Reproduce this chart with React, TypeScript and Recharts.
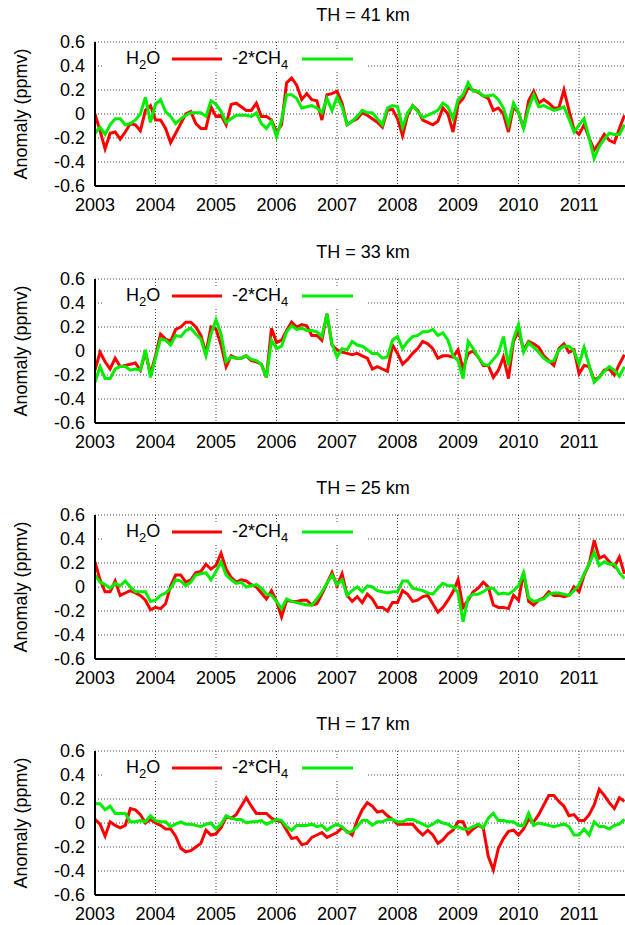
import React from "react";
import {
  LineChart,
  Line,
  XAxis,
  YAxis,
  CartesianGrid,
  Customized,
} from "recharts";

// month index counted from Jan 2003
const yearTicks = [0, 12, 24, 36, 48, 60, 72, 84, 96];
const quarterTicks = [
  0, 3, 6, 9, 12, 15, 18, 21, 24, 27, 30, 33, 36, 39, 42, 45, 48, 51, 54, 57,
  60, 63, 66, 69, 72, 75, 78, 81, 84, 87, 90, 93, 96, 99, 102, 105,
];
const yTicks = [-0.6, -0.4, -0.2, 0, 0.2, 0.4, 0.6];
const heights = ["41", "33", "25", "17"];

const h2o41 = [
  0.0, -0.14, -0.29, -0.16, -0.15, -0.21, -0.15, -0.08, -0.09, -0.14, 0.03, 0.07,
  -0.05, -0.05, -0.12, -0.24, -0.16, -0.08, 0.0, 0.02, -0.08, -0.12, -0.12, 0.06,
  -0.02, -0.01, -0.09, 0.08, 0.09, 0.06, 0.03, 0.03, 0.09, -0.02, -0.02, -0.05,
  -0.15, -0.09, 0.26, 0.3, 0.24, 0.12, 0.17, 0.12, 0.11, -0.05, 0.16, 0.17,
  0.19, 0.09, -0.09, -0.06, -0.04, 0.01, -0.01, -0.04, -0.07, -0.11, 0.03, 0.04,
  -0.04, -0.18, -0.01, 0.07, 0.03, -0.05, -0.07, -0.09, -0.06, 0.05, 0.0, -0.15,
  0.08, 0.13, 0.22, 0.2, 0.18, 0.15, 0.13, 0.03, 0.05, 0.0, -0.15, 0.06,
  0.01, -0.12, 0.11, 0.19, 0.09, 0.12, 0.09, 0.05, 0.05, 0.2, 0.03, -0.13,
  -0.17, -0.09, -0.2, -0.3, -0.24, -0.17, -0.22, -0.24, -0.12, -0.01,
];
const ch4_41 = [
  -0.16, -0.11, -0.17, -0.09, -0.04, -0.04, -0.09, -0.08, -0.05, 0.0, 0.14, -0.07,
  0.08, 0.12, 0.02, -0.02, -0.08, -0.04, -0.01, 0.01, 0.01, 0.01, -0.02, 0.11,
  0.08, 0.02, -0.07, -0.04, -0.01, -0.01, -0.01, -0.02, 0.01, -0.08, -0.12, -0.06,
  -0.19, -0.05, 0.16, 0.16, 0.13, 0.05, 0.06, 0.07, 0.05, 0.01, 0.13, 0.03,
  0.14, 0.06, -0.09, -0.06, -0.02, 0.03, 0.01, 0.01, -0.04, -0.09, 0.05, 0.07,
  0.06, -0.11, 0.01, 0.07, 0.02, -0.03, -0.01, 0.01, 0.03, 0.09, 0.06, -0.04,
  0.12, 0.16, 0.26, 0.19, 0.19, 0.15, 0.15, 0.16, 0.12, 0.05, -0.09, 0.09,
  0.01, -0.12, 0.05, 0.16, 0.06, 0.07, 0.05, 0.03, 0.04, 0.06, -0.04, -0.15,
  -0.09, -0.04, -0.2, -0.37, -0.27, -0.21, -0.16, -0.17, -0.17, -0.09,
];

const h2o33 = [
  -0.16, -0.01, -0.09, -0.15, -0.06, -0.13, -0.12, -0.11, -0.1, -0.16, -0.01, -0.19,
  -0.04, 0.14, 0.1, 0.08, 0.18, 0.2, 0.24, 0.24, 0.2, 0.13, -0.02, 0.2,
  0.18, 0.05, -0.13, -0.04, -0.06, -0.06, -0.04, -0.08, -0.09, -0.11, -0.22, 0.19,
  0.07, 0.09, 0.17, 0.24, 0.2, 0.22, 0.21, 0.13, 0.13, 0.09, 0.31, 0.05,
  0.01, -0.01, -0.02, -0.03, -0.02, -0.04, -0.06, -0.15, -0.13, -0.15, -0.17, 0.05,
  -0.02, -0.11, -0.07, -0.02, 0.02, 0.08, 0.06, 0.02, -0.06, -0.04, -0.04, -0.05,
  0.01, -0.15, -0.02, 0.0, -0.05, -0.12, -0.12, -0.22, -0.16, -0.05, -0.23, 0.08,
  0.17, 0.01, 0.08, 0.06, 0.03, -0.04, -0.08, -0.12, 0.02, 0.06, -0.01, 0.01,
  -0.19, -0.12, -0.13, -0.24, -0.22, -0.16, -0.15, -0.2, -0.11, -0.03,
];
const ch4_33 = [
  -0.26, -0.13, -0.23, -0.23, -0.15, -0.13, -0.13, -0.16, -0.15, -0.16, 0.01, -0.22,
  -0.06, 0.1, 0.09, 0.05, 0.13, 0.12, 0.17, 0.19, 0.14, 0.1, -0.04, 0.14,
  0.26, 0.14, -0.09, -0.05, -0.06, -0.06, -0.04, -0.07, -0.08, -0.11, -0.22, 0.09,
  0.02, 0.04, 0.16, 0.21, 0.18, 0.19, 0.17, 0.17, 0.16, 0.12, 0.31, 0.06,
  -0.05, 0.02, 0.01, 0.08, 0.05, 0.04, 0.01, -0.02, -0.02, -0.06, -0.05, 0.09,
  0.12, 0.02, 0.08, 0.12, 0.13, 0.16, 0.16, 0.18, 0.13, 0.15, 0.09, -0.04,
  -0.08, -0.23, 0.08, 0.02, -0.05, -0.11, -0.12, -0.07, -0.02, 0.12, -0.12, 0.1,
  0.22, -0.01, 0.07, 0.03, -0.01, -0.06, -0.09, -0.08, 0.01, 0.04, 0.04, 0.0,
  -0.11, 0.03, -0.12, -0.26, -0.22, -0.17, -0.13, -0.16, -0.21, -0.13,
];

const h2o25 = [
  0.21, 0.06, -0.04, -0.04, 0.05, -0.07, -0.05, -0.03, -0.05, -0.07, -0.11, -0.19,
  -0.17, -0.18, -0.14, 0.01, 0.1, 0.1, 0.04, 0.06, 0.12, 0.13, 0.19, 0.15,
  0.18, 0.28, 0.15, 0.08, 0.04, 0.06, 0.05, 0.02, 0.0, -0.05, -0.1, -0.03,
  -0.12, -0.25, -0.11, -0.12, -0.12, -0.11, -0.11, -0.15, -0.14, -0.06, 0.03, 0.12,
  0.01, 0.11, -0.07, -0.12, -0.08, -0.13, -0.06, -0.1, -0.17, -0.17, -0.2, -0.13,
  -0.13, -0.03, -0.06, -0.12, -0.11, -0.08, -0.07, -0.14, -0.21, -0.17, -0.11, -0.04,
  0.06, -0.17, -0.11, -0.04, -0.01, 0.04, 0.0, -0.15, -0.17, -0.17, -0.18, -0.07,
  -0.11, 0.12, -0.12, -0.15, -0.11, -0.09, -0.04, -0.07, -0.07, -0.08, -0.07, 0.0,
  -0.04, 0.1, 0.19, 0.39, 0.24, 0.26, 0.21, 0.17, 0.25, 0.11,
];
const ch4_25 = [
  0.1, 0.04, 0.02, -0.01, 0.03, 0.01, 0.05, 0.0, -0.04, -0.04, -0.04, -0.12,
  -0.11, -0.07, -0.05, -0.01, 0.06, 0.05, 0.01, 0.04, 0.1, 0.11, 0.12, 0.06,
  0.13, 0.21, 0.1, 0.06, 0.03, 0.04, 0.0, 0.01, 0.02, -0.01, -0.06, -0.07,
  -0.12, -0.18, -0.1, -0.12, -0.13, -0.14, -0.15, -0.15, -0.1, -0.04, 0.03, 0.1,
  0.02, 0.06, -0.07, -0.03, 0.0, -0.04, 0.01, 0.0, -0.03, -0.04, -0.05, -0.04,
  -0.04, 0.05, 0.05, -0.01, -0.02, -0.03, -0.05, -0.06, -0.01, 0.03, 0.01, 0.01,
  -0.05, -0.29, -0.09, -0.06, -0.06, -0.04, -0.01, -0.01, -0.06, -0.05, -0.06, -0.03,
  0.01, 0.12, -0.09, -0.12, -0.11, -0.1, -0.06, -0.05, -0.05, -0.06, -0.07, -0.03,
  0.02, 0.11, 0.19, 0.29, 0.18, 0.21, 0.19, 0.19, 0.12, 0.07,
];

const h2o17 = [
  0.03, -0.01, -0.11, 0.01, -0.02, -0.04, -0.02, 0.12, 0.11, 0.07, 0.0, 0.03,
  0.0, -0.02, -0.05, -0.05, -0.11, -0.21, -0.24, -0.23, -0.2, -0.17, -0.06, -0.1,
  -0.09, -0.04, 0.05, 0.04, 0.07, 0.14, 0.21, 0.14, 0.08, 0.08, 0.08, 0.04,
  0.02, 0.01, -0.06, -0.13, -0.12, -0.18, -0.17, -0.12, -0.1, -0.08, -0.12, -0.1,
  -0.08, -0.04, -0.07, -0.1, 0.02, 0.11, 0.17, 0.14, 0.09, 0.1, 0.06, 0.03,
  -0.01, -0.01, -0.01, -0.01, -0.06, -0.1, -0.06, -0.1, -0.17, -0.14, -0.09, -0.06,
  0.01, 0.01, -0.09, -0.05, -0.02, -0.04, -0.28, -0.39, -0.21, -0.13, -0.07, -0.06,
  -0.1, -0.05, 0.03, 0.01, 0.07, 0.15, 0.23, 0.23, 0.18, 0.14, 0.06, 0.07,
  0.02, 0.02, 0.07, 0.15, 0.28, 0.23, 0.17, 0.12, 0.21, 0.18,
];
const ch4_17 = [
  0.16, 0.16, 0.11, 0.14, 0.08, 0.08, 0.08, 0.01, 0.01, 0.02, 0.01, 0.06,
  0.02, 0.01, 0.01, -0.03, -0.01, 0.01, -0.01, -0.01, -0.02, -0.03, -0.01, 0.0,
  -0.05, -0.01, 0.06, 0.04, 0.03, 0.03, 0.0, 0.01, 0.01, 0.02, -0.01, 0.01,
  0.03, 0.02, -0.03, -0.06, -0.02, -0.02, -0.02, -0.01, -0.03, -0.02, -0.06, -0.03,
  -0.01, -0.03, -0.08, -0.07, -0.03, 0.02, 0.02, -0.02, 0.01, 0.01, 0.03, 0.03,
  0.01, 0.01, 0.03, 0.03, 0.01, -0.01, -0.03, -0.01, 0.02, 0.0, -0.01, -0.04,
  -0.03, -0.05, -0.05, -0.03, -0.01, -0.04, 0.04, 0.08, 0.02, 0.02, 0.01, 0.01,
  -0.02, -0.02, 0.08, -0.02, 0.0, -0.01, -0.02, -0.03, -0.02, -0.01, -0.03, -0.1,
  -0.1, -0.05, -0.1, 0.01, -0.03, -0.03, -0.05, -0.02, -0.01, 0.03,
];

const h2oSeries = [h2o41, h2o33, h2o25, h2o17];
const ch4Series = [ch4_41, ch4_33, ch4_25, ch4_17];

const FONT = '"Liberation Sans", Arial, Helvetica, sans-serif';
const RED = "#ff0000";
const GREEN = "#00ee00";
const DOMAIN: [number, number] = [0, 106.5];

const yearLabel = (v: number) => String(2003 + v / 12);
const yLabel = (v: number) => (Math.abs(v) < 1e-9 ? "0" : v.toFixed(1));
const blank = () => "";

function Decor({ title }: { title: string }) {
  return (
    <g fontFamily={FONT} fill="#000">
      <text x={363} y={21} textAnchor="middle" fontSize={18}>
        {title}
      </text>
      <text
        transform="rotate(-90)"
        x={-114}
        y={27}
        textAnchor="middle"
        fontSize={18}
      >
        Anomaly (ppmv)
      </text>
      <rect x={104} y={49} width={262} height={22} fill="#fff" />
      <text x={126} y={64} fontSize={18}>
        H
        <tspan fontSize={13} dy={5}>
          2
        </tspan>
        <tspan dy={-5}>O</tspan>
      </text>
      <line x1={172} x2={222} y1={59} y2={59} stroke={RED} strokeWidth={3} />
      <text x={232} y={64} fontSize={18}>
        -2*CH
        <tspan fontSize={13} dy={5}>
          4
        </tspan>
      </text>
      <line x1={302} x2={353} y1={59} y2={59} stroke={GREEN} strokeWidth={3} />
    </g>
  );
}

function Panel({ idx }: { idx: number }) {
  const h2o = h2oSeries[idx];
  const ch4 = ch4Series[idx];
  const data = h2o.map((v, m) => ({ m, h2o: v, ch4: ch4[m] }));
  const tickStyle = { fontSize: 18, fill: "#000", fontFamily: FONT };

  return (
    <LineChart
      width={640}
      height={236}
      data={data}
      margin={{ top: 42, right: 8, bottom: 20, left: 0 }}
    >
      <CartesianGrid
        xAxisId="x"
        yAxisId="y"
        stroke="#444"
        strokeDasharray="1 2"
      />
      <Customized component={<Decor title={`TH = ${heights[idx]} km`} />} />

      <XAxis
        xAxisId="x"
        dataKey="m"
        type="number"
        domain={DOMAIN}
        allowDataOverflow
        ticks={yearTicks}
        interval={0}
        tickFormatter={yearLabel}
        tickLine={false}
        tickSize={0}
        tickMargin={12}
        height={30}
        axisLine={{ stroke: "#000", strokeWidth: 2 }}
        tick={tickStyle}
      />
      <XAxis
        xAxisId="bq"
        dataKey="m"
        type="number"
        orientation="bottom"
        mirror
        height={0}
        domain={DOMAIN}
        allowDataOverflow
        ticks={quarterTicks}
        interval={0}
        tickFormatter={blank}
        tickSize={3}
        axisLine={false}
        tickLine={{ stroke: "#000", strokeWidth: 1.5 }}
      />
      <XAxis
        xAxisId="bm"
        dataKey="m"
        type="number"
        orientation="bottom"
        mirror
        height={0}
        domain={DOMAIN}
        allowDataOverflow
        ticks={yearTicks}
        interval={0}
        tickFormatter={blank}
        tickSize={7}
        axisLine={false}
        tickLine={{ stroke: "#000", strokeWidth: 1.5 }}
      />
      <XAxis
        xAxisId="tq"
        dataKey="m"
        type="number"
        orientation="top"
        mirror
        height={0}
        domain={DOMAIN}
        allowDataOverflow
        ticks={quarterTicks}
        interval={0}
        tickFormatter={blank}
        tickSize={3}
        axisLine={{ stroke: "#000", strokeWidth: 2 }}
        tickLine={{ stroke: "#000", strokeWidth: 1.5 }}
      />
      <XAxis
        xAxisId="tm"
        dataKey="m"
        type="number"
        orientation="top"
        mirror
        height={0}
        domain={DOMAIN}
        allowDataOverflow
        ticks={yearTicks}
        interval={0}
        tickFormatter={blank}
        tickSize={7}
        axisLine={false}
        tickLine={{ stroke: "#000", strokeWidth: 1.5 }}
      />
      <YAxis
        yAxisId="y"
        type="number"
        domain={[-0.6, 0.6]}
        allowDataOverflow
        ticks={yTicks}
        interval={0}
        width={95}
        tickFormatter={yLabel}
        tickLine={false}
        tickSize={0}
        tickMargin={10}
        axisLine={{ stroke: "#000", strokeWidth: 2 }}
        tick={tickStyle}
      />
      <YAxis
        yAxisId="ym"
        type="number"
        mirror
        width={0}
        domain={[-0.6, 0.6]}
        allowDataOverflow
        ticks={yTicks}
        interval={0}
        tickFormatter={blank}
        tickSize={7}
        axisLine={false}
        tickLine={{ stroke: "#000", strokeWidth: 1.5 }}
      />

      <Line
        xAxisId="x"
        yAxisId="y"
        type="linear"
        dataKey="h2o"
        stroke={RED}
        strokeWidth={3}
        dot={false}
        isAnimationActive={false}
      />
      <Line
        xAxisId="x"
        yAxisId="y"
        type="linear"
        dataKey="ch4"
        stroke={GREEN}
        strokeWidth={3}
        dot={false}
        isAnimationActive={false}
      />
    </LineChart>
  );
}

const panelTops = [0, 237, 473, 709];

export default function App() {
  return (
    <div
      style={{
        position: "absolute",
        left: 0,
        top: 0,
        width: 625,
        height: 925,
        overflow: "hidden",
        background: "#fff",
      }}
    >
      {panelTops.map((top, i) => (
        <div key={i} style={{ position: "absolute", left: 0, top }}>
          <Panel idx={i} />
        </div>
      ))}
    </div>
  );
}
